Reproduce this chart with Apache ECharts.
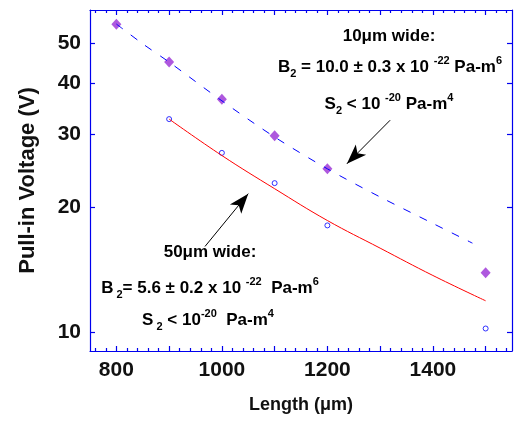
<!DOCTYPE html>
<html><head><meta charset="utf-8">
<script src="https://cdn.jsdelivr.net/npm/echarts@6/dist/echarts.min.js"></script>
<style>html,body{margin:0;padding:0;background:#fff}#c{width:514px;height:421px}</style>
</head><body><div id="c"></div>
<script>
// ---- data ----
const lengths10 = [800, 900, 1000, 1100, 1200, 1500];
const voltage10 = [55.4, 44.9, 36.5, 29.8, 24.8, 13.9];
const lengths50 = [900, 1000, 1100, 1200, 1500];
const voltage50 = [32.7, 27.1, 22.9, 18.1, 10.2];
const fitLengths10 = [800, 850, 900, 1000, 1100, 1200, 1300, 1400, 1475];
const fitVoltage10 = [55.5, 49.7, 44.9, 36.2, 29.6, 24.8, 21.2, 18.3, 16.4];
const fitLengths50 = [900, 1000, 1100, 1200, 1300, 1400, 1500];
const fitVoltage50 = [32.7, 26.7, 22.2, 18.6, 15.95, 13.7, 11.9];
// ticks
const xLabelTicks = [800, 1000, 1200, 1400];
const xMajorTicks = [800, 900, 1000, 1100, 1200, 1300, 1400, 1500];
const xMinorTicks = [760, 780, 820, 840, 860, 880, 920, 940, 960, 980, 1020, 1040, 1060, 1080,
  1120, 1140, 1160, 1180, 1220, 1240, 1260, 1280, 1320, 1340, 1360, 1380, 1420, 1440, 1460, 1480,
  1520, 1540];
const yTicks = [10, 20, 30, 40, 50];
// annotation arrows (data coords: [length, voltage]), tail then head
const arrow10 = [[1319, 32.5], [1237, 25.5]];
const arrow50 = [[968, 16.1], [1050, 21.6]];

const AX = '#0000ee';
const FONT = '"Liberation Sans", Arial, sans-serif';

function zip(a, b) { return a.map((v, i) => [v, b[i]]); }

function xAxisDef(pos, ticks, len, showLine, showLabel) {
  return {
    type: 'value', position: pos, min: 750, max: 1550,
    axisLine: { show: showLine, onZero: false, lineStyle: { color: AX, width: 1.2 } },
    axisTick: { show: true, inside: true, length: len, customValues: ticks, lineStyle: { color: AX, width: 1.2 } },
    axisLabel: showLabel ? { show: true, customValues: xLabelTicks, margin: 9, color: '#111',
      formatter: v => String(v),
      fontFamily: FONT, fontWeight: 'bold', fontSize: 21 } : { show: false },
    splitLine: { show: false }
  };
}

const chart = echarts.init(document.getElementById('c'), null, { renderer: 'canvas' });

const rich = {
  t: { fontSize: 17, fontWeight: 'bold', fontFamily: FONT, color: '#111', lineHeight: 24, verticalAlign: 'middle' },
  sup: { fontSize: 11, fontWeight: 'bold', fontFamily: FONT, color: '#111', lineHeight: 12, verticalAlign: 'top' },
  sub: { fontSize: 11, fontWeight: 'bold', fontFamily: FONT, color: '#111', lineHeight: 10, verticalAlign: 'bottom' }
};
function txt(x, y, s) {
  return { type: 'text', x: x, y: y, style: { text: s, rich: rich, align: 'center', verticalAlign: 'middle' } };
}
function arrowEnds(a) {
  return [
    { coord: a[0], symbol: 'none' },
    { coord: a[1], symbol: 'arrow', symbolSize: [11, 20] }
  ];
}

chart.setOption({
  animation: false,
  grid: { left: 90, top: 10, right: 2, bottom: 70, containLabel: false },
  xAxis: [
    Object.assign(xAxisDef('bottom', xMajorTicks, 5, true, true), {
      name: 'Length (μm)', nameLocation: 'middle', nameGap: 45,
      nameTextStyle: { fontFamily: FONT, fontWeight: 'bold', fontSize: 18, color: '#111' }
    }),
    xAxisDef('bottom', xMinorTicks, 3, false, false),
    xAxisDef('top', xMajorTicks, 5, true, false),
    xAxisDef('top', xMinorTicks, 3, false, false)
  ],
  yAxis: [
    {
      type: 'log', logBase: 10, position: 'left', min: 9, max: 60,
      name: 'Pull-in Voltage (V)', nameLocation: 'middle', nameGap: 51, nameRotate: 90,
      nameTextStyle: { fontFamily: FONT, fontWeight: 'bold', fontSize: 22, color: '#111' },
      axisLine: { show: true, lineStyle: { color: AX, width: 1.2 } },
      axisTick: { show: true, inside: true, length: 5, customValues: yTicks, lineStyle: { color: AX, width: 1.2 } },
      axisLabel: { show: true, customValues: yTicks, margin: 9, color: '#111', formatter: v => String(v),
        fontFamily: FONT, fontWeight: 'bold', fontSize: 21 },
      minorTick: { show: false },
      splitLine: { show: false }
    },
    {
      type: 'log', logBase: 10, position: 'right', min: 9, max: 60,
      axisLine: { show: true, lineStyle: { color: AX, width: 1.2 } },
      axisTick: { show: true, inside: true, length: 5, customValues: yTicks, lineStyle: { color: AX, width: 1.2 } },
      axisLabel: { show: false },
      splitLine: { show: false }
    }
  ],
  series: [
    {
      type: 'line', name: 'fit 10', data: zip(fitLengths10, fitVoltage10), smooth: 0.3,
      showSymbol: false,
      lineStyle: { color: '#0000ff', width: 1, type: [8, 10] }
    },
    {
      type: 'line', name: 'fit 50', data: zip(fitLengths50, fitVoltage50), smooth: 0.4,
      showSymbol: false,
      lineStyle: { color: '#ff0000', width: 1 }
    },
    {
      type: 'scatter', name: '10 um wide', data: zip(lengths10, voltage10),
      symbol: 'diamond', symbolSize: [10, 11],
      itemStyle: { color: '#9a2ed6' }
    },
    {
      type: 'scatter', name: '50 um wide', data: zip(lengths50, voltage50),
      symbol: 'circle', symbolSize: 5,
      itemStyle: { color: '#fff', borderColor: '#0000ff', borderWidth: 1 }
    },
    {
      type: 'line', name: 'arrows', data: [],
      markLine: {
        silent: true, symbol: ['none', 'arrow'], symbolSize: [10, 18],
        lineStyle: { color: '#000', width: 1, type: 'solid' },
        itemStyle: { color: '#000' },
        label: { show: false },
        data: [arrowEnds(arrow10), arrowEnds(arrow50)]
      }
    }
  ],
  graphic: [
    txt(389, 36, '{t|10μm wide:}'),
    txt(390, 67, '{t|B}{sub|2}{t| = 10.0 ± 0.3 x 10 }{sup|-22}{t| Pa-m}{sup|6}'),
    txt(389, 104, '{t|S}{sub|2}{t| < 10 }{sup|-20}{t| Pa-m}{sup|4}'),
    txt(210, 252, '{t|50μm wide:}'),
    txt(210, 288, '{t|B}{sub| 2}{t|= 5.6 ± 0.2 x 10 }{sup|-22}{t|  Pa-m}{sup|6}'),
    txt(208, 320, '{t|S}{sub| 2}{t| < 10}{sup|-20}{t|  Pa-m}{sup|4}')
  ]
});
</script></body></html>
